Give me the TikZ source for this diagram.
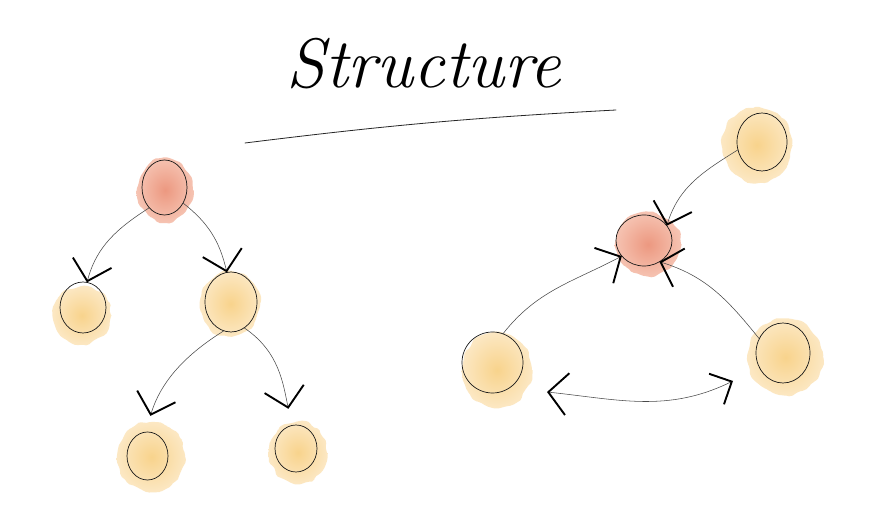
\documentclass[tikz,border=0pt]{standalone}
\usetikzlibrary{arrows.meta,shapes.geometric,decorations.pathmorphing}
\definecolor{yIn}{HTML}{F8D38C}
\definecolor{yOut}{HTML}{FCE8C4}
\definecolor{rIn}{HTML}{EC9880}
\definecolor{rOut}{HTML}{F6C4B3}
\definecolor{edgecol}{HTML}{4A4A4A}
\pgfmathsetseed{7}
\tikzset{
  blobY/.style={inner color=yIn, outer color=yOut, decorate,
    decoration={random steps,segment length=5pt,amplitude=1.8pt}, rounded corners=2pt},
  blobR/.style={inner color=rIn, outer color=rOut, decorate,
    decoration={random steps,segment length=5pt,amplitude=1.8pt}, rounded corners=2pt},
  ring/.style={ellipse, draw=black!90, line width=0.7pt, inner sep=0pt, outer sep=0pt},
  edge/.style={draw=edgecol, line width=0.55pt,
    -{Straight Barb[length=19pt,width=40pt,line width=1.9pt,black]}},
  dedge/.style={draw=edgecol, line width=0.55pt,
    {Straight Barb[length=19pt,width=42pt,line width=1.9pt,black]}-{Straight Barb[length=17pt,width=34pt,line width=1.9pt,black]}},
}
\begin{document}
\begin{tikzpicture}[x=1pt,y=1pt]
\useasboundingbox (0,0) rectangle (870,511);
\fill[white] (0,0) rectangle (870,511);

% title
\node[anchor=base, font=\fontsize{70}{76}\selectfont\itshape, inner sep=0pt] (title) at (424,423) {Structure};
\draw[line width=0.8pt, black!85, line cap=round] (245,368) to[bend left=2] (616,401);

% blobs
\shade[blobR] (165,321) ellipse [x radius=28, y radius=32];
\shade[blobY] (82,196) ellipse [x radius=29, y radius=29];
\shade[blobY] (230,207) ellipse [x radius=30, y radius=33];
\shade[blobY] (151,54) ellipse [x radius=34, y radius=35];
\shade[blobY] (298,58) ellipse [x radius=29, y radius=31];
\shade[blobR] (648,267) ellipse [x radius=33, y radius=32];
\shade[blobY] (757,366) ellipse [x radius=35, y radius=38];
\shade[blobY] (497,141) ellipse [x radius=35, y radius=38];
\shade[blobY] (785,154) ellipse [x radius=38, y radius=38];

% nodes
\node[ring, minimum width=45pt, minimum height=55pt] (root) at (164.5,323.5) {};
\node[ring, minimum width=46pt, minimum height=51pt] (lc) at (83,203.5) {};
\node[ring, minimum width=52pt, minimum height=60pt] (rc) at (231,209) {};
\node[ring, minimum width=41pt, minimum height=48pt] (bl) at (147.5,55) {};
\node[ring, minimum width=42pt, minimum height=47pt] (br) at (296,62.5) {};
\node[ring, minimum width=56pt, minimum height=51pt] (red) at (644,270.5) {};
\node[ring, minimum width=50pt, minimum height=58pt] (tr) at (762,369) {};
\node[ring, minimum width=61pt, minimum height=61pt] (rbl) at (492.5,148.5) {};
\node[ring, minimum width=54pt, minimum height=60pt] (rbr) at (783,158) {};
\coordinate (dl) at (547,119);
\coordinate (dr) at (733,130);

% connectors
\draw[edge] (root.233) to[out=213, in=75] (lc.81);
\draw[edge] (root.-40) to[out=-38, in=103] (rc.98);
\draw[edge, shorten >=17pt] (rc.256) to[out=212, in=73] (bl.95);
\draw[edge, shorten >=17pt] (rc.-63) to[out=-34, in=102] (br.100);
\draw[edge] (tr.198) to[out=212, in=73] (red.33);
\draw[edge] (rbl.70) to[out=52, in=208] (red.215);
\draw[edge] (rbr.149) to[out=129, in=-17] (red.-54);
\draw[dedge] (dl) to[out=-6, in=206] (dr);
\end{tikzpicture}
\end{document}
